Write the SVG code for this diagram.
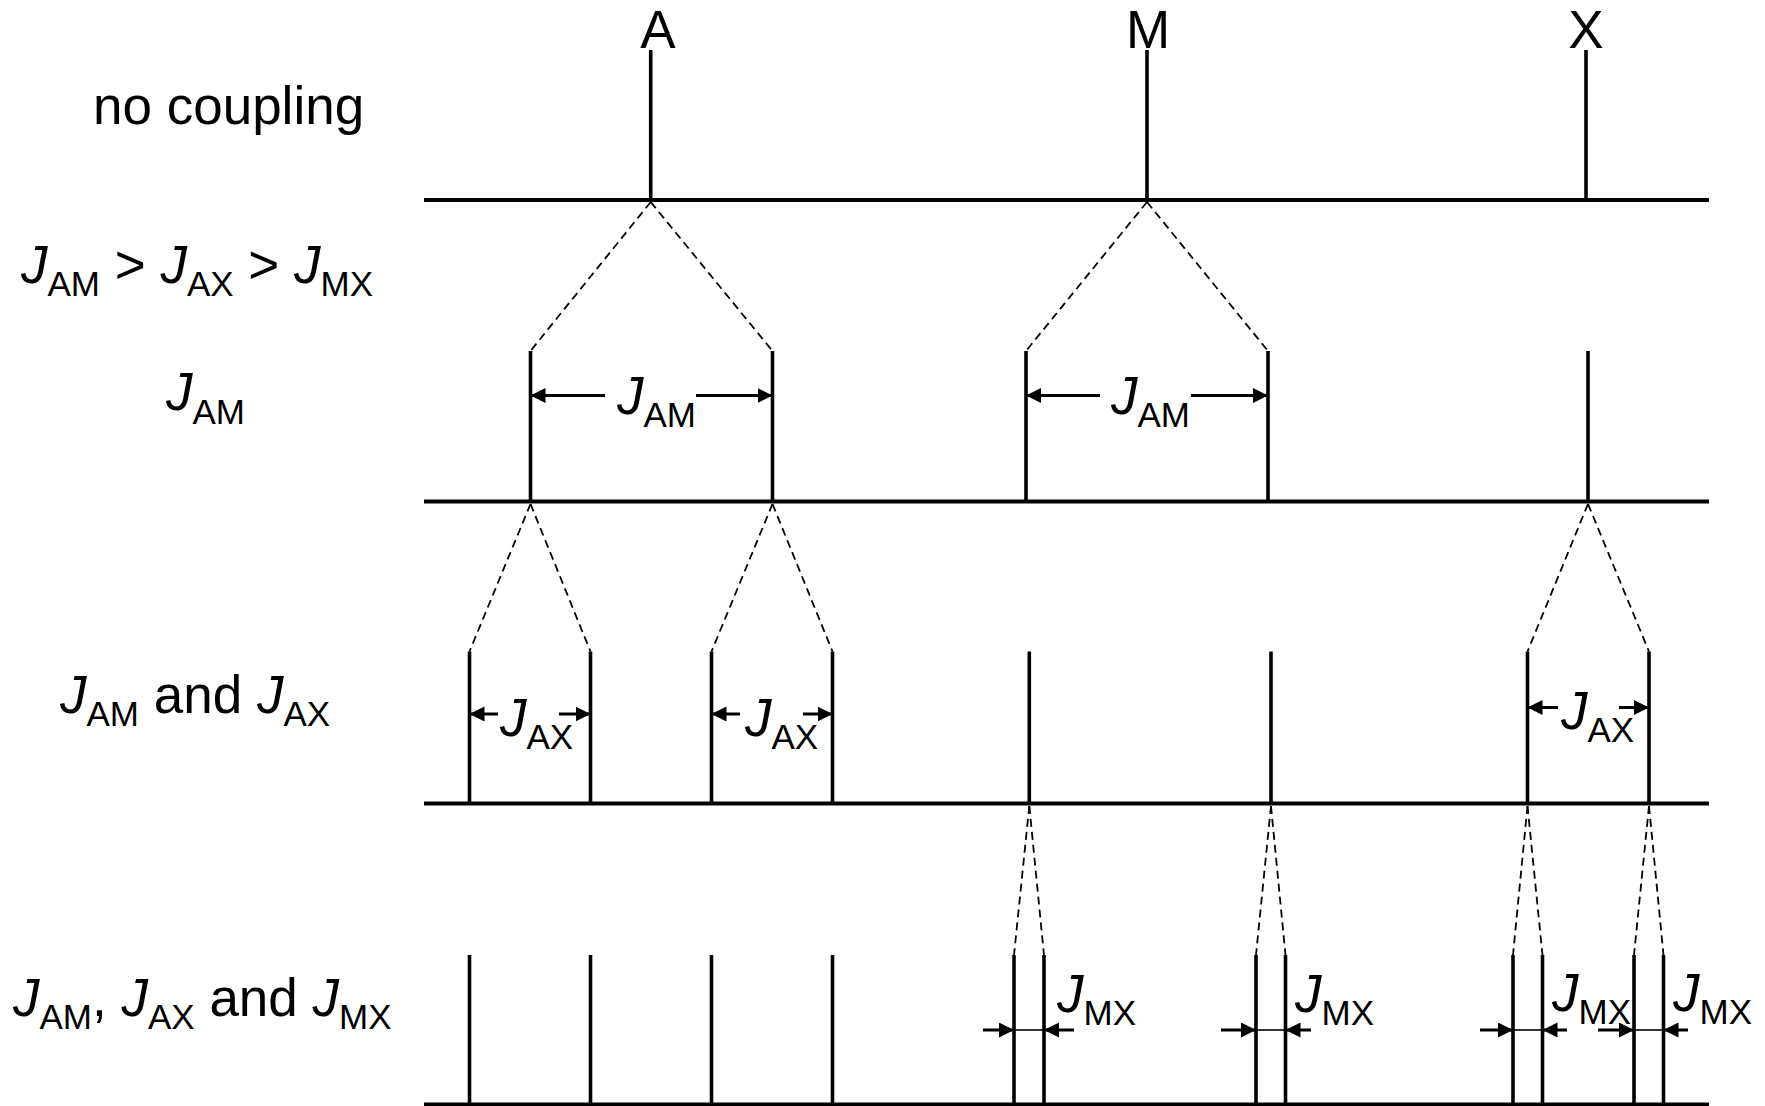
<svg xmlns="http://www.w3.org/2000/svg" width="1765" height="1106" viewBox="0 0 1765 1106">
<style>
.base{stroke:#000;stroke-width:4.2;fill:none}
.stick{stroke:#000;stroke-width:3.6;fill:none}
.dash{stroke:#000;stroke-width:1.8;stroke-dasharray:8 5;fill:none}
.dim{stroke:#000;stroke-width:3;fill:none}
.dimL{stroke:#000;stroke-width:3;fill:none;marker-end:url(#ah)}
.thin{stroke:#000;stroke-width:1.6;fill:none}
text{font-family:"Liberation Sans",Arial,sans-serif;font-size:53px;fill:#000}
.j{font-style:italic}
.s{font-size:35px}
</style>
<defs>
<marker id="ah" markerUnits="userSpaceOnUse" markerWidth="16" markerHeight="16" refX="15" refY="7.5" orient="auto">
<path d="M0,0 L15,7.5 L0,15 z" fill="#000"/>
</marker>
</defs>
<rect width="1765" height="1106" fill="#fff"/>

<g id="labels">
<text x="93" y="124">no coupling</text>
<text x="21" y="283"><tspan class="j">J</tspan><tspan class="s" dy="13">AM</tspan><tspan dy="-13"> &gt; </tspan><tspan class="j">J</tspan><tspan class="s" dy="13">AX</tspan><tspan dy="-13"> &gt; </tspan><tspan class="j">J</tspan><tspan class="s" dy="13">MX</tspan></text>
<text x="166" y="410"><tspan class="j">J</tspan><tspan class="s" dy="14">AM</tspan></text>
<text x="60" y="713"><tspan class="j">J</tspan><tspan class="s" dy="13">AM</tspan><tspan dy="-13"> and </tspan><tspan class="j">J</tspan><tspan class="s" dy="13">AX</tspan></text>
<text x="13" y="1016"><tspan class="j">J</tspan><tspan class="s" dy="13">AM</tspan><tspan dy="-13">, </tspan><tspan class="j">J</tspan><tspan class="s" dy="13">AX</tspan><tspan dy="-13"> and </tspan><tspan class="j">J</tspan><tspan class="s" dy="13">MX</tspan></text>
</g>

<g id="row1">
<line class="base" x1="424" y1="200" x2="1709" y2="200"/>
<line class="stick" x1="650.7" y1="50" x2="650.7" y2="200"/>
<line class="stick" x1="1147" y1="50" x2="1147" y2="200"/>
<line class="stick" x1="1586" y1="50" x2="1586" y2="200"/>
<text x="658" y="48" text-anchor="middle">A</text>
<text x="1148" y="48" text-anchor="middle">M</text>
<text x="1586" y="48" text-anchor="middle">X</text>
</g>

<g id="row2">
<line class="base" x1="424" y1="501.5" x2="1709" y2="501.5"/>
<line class="stick" x1="530.5" y1="351" x2="530.5" y2="501.5"/>
<line class="stick" x1="772.5" y1="351" x2="772.5" y2="501.5"/>
<line class="stick" x1="1026" y1="351" x2="1026" y2="501.5"/>
<line class="stick" x1="1268" y1="351" x2="1268" y2="501.5"/>
<line class="stick" x1="1588" y1="351" x2="1588" y2="501.5"/>
<line class="dimL" x1="605" y1="395.5" x2="530.5" y2="395.5"/>
<line class="dimL" x1="696" y1="395.5" x2="772.5" y2="395.5"/>
<text x="617" y="414"><tspan class="j">J</tspan><tspan class="s" dy="13">AM</tspan></text>
<line class="dimL" x1="1100" y1="395.5" x2="1026" y2="395.5"/>
<line class="dimL" x1="1191" y1="395.5" x2="1268" y2="395.5"/>
<text x="1111" y="414"><tspan class="j">J</tspan><tspan class="s" dy="13">AM</tspan></text>
</g>

<g id="row3">
<line class="base" x1="424" y1="803.5" x2="1709" y2="803.5"/>
<line class="stick" x1="469.5" y1="651.5" x2="469.5" y2="803.5"/>
<line class="stick" x1="590.5" y1="651.5" x2="590.5" y2="803.5"/>
<line class="stick" x1="711.5" y1="651.5" x2="711.5" y2="803.5"/>
<line class="stick" x1="832.5" y1="651.5" x2="832.5" y2="803.5"/>
<line class="stick" x1="1029.3" y1="651.5" x2="1029.3" y2="803.5"/>
<line class="stick" x1="1271" y1="651.5" x2="1271" y2="803.5"/>
<line class="stick" x1="1527.5" y1="651.5" x2="1527.5" y2="803.5"/>
<line class="stick" x1="1649" y1="651.5" x2="1649" y2="803.5"/>
<line class="dimL" x1="498" y1="714" x2="469.5" y2="714"/>
<line class="dimL" x1="559" y1="714" x2="590.5" y2="714"/>
<text x="500" y="736"><tspan class="j">J</tspan><tspan class="s" dy="13">AX</tspan></text>
<line class="dimL" x1="740" y1="714" x2="711.5" y2="714"/>
<line class="dimL" x1="803" y1="714" x2="832.5" y2="714"/>
<text x="745" y="736"><tspan class="j">J</tspan><tspan class="s" dy="13">AX</tspan></text>
<line class="dimL" x1="1558" y1="707.5" x2="1527.5" y2="707.5"/>
<line class="dimL" x1="1619" y1="707.5" x2="1649" y2="707.5"/>
<text x="1561" y="729"><tspan class="j">J</tspan><tspan class="s" dy="13">AX</tspan></text>
</g>

<g id="row4">
<line class="base" x1="424" y1="1104.5" x2="1709" y2="1104.5"/>
<line class="stick" x1="469.5" y1="955" x2="469.5" y2="1104.5"/>
<line class="stick" x1="590.5" y1="955" x2="590.5" y2="1104.5"/>
<line class="stick" x1="711.5" y1="955" x2="711.5" y2="1104.5"/>
<line class="stick" x1="832.5" y1="955" x2="832.5" y2="1104.5"/>
<line class="stick" x1="1014" y1="955" x2="1014" y2="1104.5"/>
<line class="stick" x1="1044" y1="955" x2="1044" y2="1104.5"/>
<line class="stick" x1="1256" y1="955" x2="1256" y2="1104.5"/>
<line class="stick" x1="1285.5" y1="955" x2="1285.5" y2="1104.5"/>
<line class="stick" x1="1513" y1="955" x2="1513" y2="1104.5"/>
<line class="stick" x1="1542.5" y1="955" x2="1542.5" y2="1104.5"/>
<line class="stick" x1="1634" y1="955" x2="1634" y2="1104.5"/>
<line class="stick" x1="1663.5" y1="955" x2="1663.5" y2="1104.5"/>
<line class="dimL" x1="983" y1="1030" x2="1014" y2="1030"/>
<line class="thin" x1="1014" y1="1030" x2="1044" y2="1030"/>
<line class="dimL" x1="1074" y1="1030" x2="1044" y2="1030"/>
<text x="1057" y="1012"><tspan class="j">J</tspan><tspan class="s" dy="13">MX</tspan></text>
<line class="dimL" x1="1221" y1="1030" x2="1256" y2="1030"/>
<line class="thin" x1="1256" y1="1030" x2="1285.5" y2="1030"/>
<line class="dimL" x1="1311" y1="1030" x2="1285.5" y2="1030"/>
<text x="1295" y="1012"><tspan class="j">J</tspan><tspan class="s" dy="13">MX</tspan></text>
<line class="dimL" x1="1480" y1="1030" x2="1513" y2="1030"/>
<line class="thin" x1="1513" y1="1030" x2="1542.5" y2="1030"/>
<line class="dimL" x1="1567" y1="1030" x2="1542.5" y2="1030"/>
<text x="1552" y="1011"><tspan class="j">J</tspan><tspan class="s" dy="13">MX</tspan></text>
<line class="dimL" x1="1598" y1="1030" x2="1634" y2="1030"/>
<line class="thin" x1="1634" y1="1030" x2="1663.5" y2="1030"/>
<line class="dimL" x1="1688" y1="1030" x2="1663.5" y2="1030"/>
<text x="1673" y="1011"><tspan class="j">J</tspan><tspan class="s" dy="13">MX</tspan></text>
</g>

<g id="connectors">
<line class="dash" x1="650.7" y1="202" x2="530.5" y2="351"/>
<line class="dash" x1="650.7" y1="202" x2="772.5" y2="351"/>
<line class="dash" x1="1147" y1="202" x2="1026" y2="351"/>
<line class="dash" x1="1147" y1="202" x2="1268" y2="351"/>
<line class="dash" x1="530.5" y1="504" x2="469.5" y2="651.5"/>
<line class="dash" x1="530.5" y1="504" x2="590.5" y2="651.5"/>
<line class="dash" x1="772.5" y1="504" x2="711.5" y2="651.5"/>
<line class="dash" x1="772.5" y1="504" x2="832.5" y2="651.5"/>
<line class="dash" x1="1588" y1="504" x2="1527.5" y2="651.5"/>
<line class="dash" x1="1588" y1="504" x2="1649" y2="651.5"/>
<line class="dash" x1="1029.3" y1="806" x2="1014" y2="955"/>
<line class="dash" x1="1029.3" y1="806" x2="1044" y2="955"/>
<line class="dash" x1="1271" y1="806" x2="1256" y2="955"/>
<line class="dash" x1="1271" y1="806" x2="1285.5" y2="955"/>
<line class="dash" x1="1527.5" y1="806" x2="1513" y2="955"/>
<line class="dash" x1="1527.5" y1="806" x2="1542.5" y2="955"/>
<line class="dash" x1="1649" y1="806" x2="1634" y2="955"/>
<line class="dash" x1="1649" y1="806" x2="1663.5" y2="955"/>
</g>
</svg>
